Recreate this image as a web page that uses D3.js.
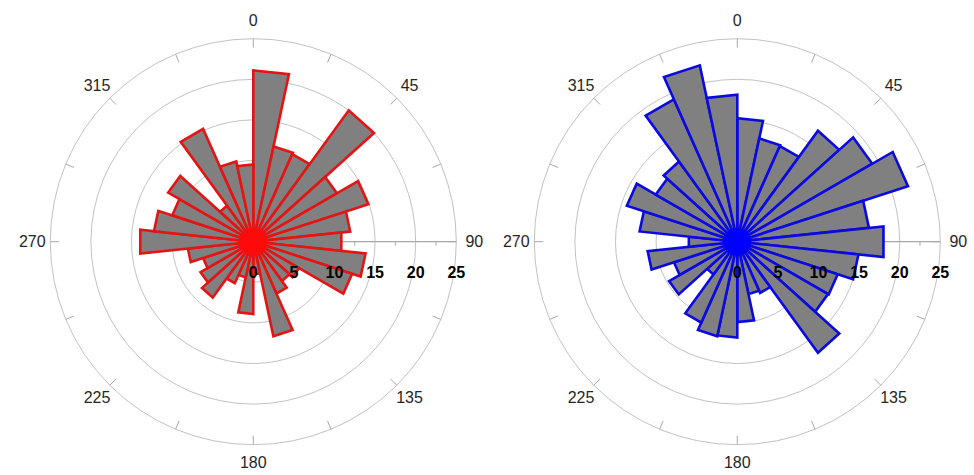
<!DOCTYPE html>
<html>
<head>
<meta charset="utf-8">
<script src="https://cdn.jsdelivr.net/npm/d3@7"></script>
<style>
  html, body { margin: 0; padding: 0; background: #fff; }
  svg { display: block; }
  .alabel { font-family: "Liberation Sans", Arial, sans-serif; font-size: 16px; fill: #262626; }
  .rlabel { font-family: "Liberation Sans", Arial, sans-serif; font-size: 16px; font-weight: bold; fill: #000; }
</style>
</head>
<body>
<svg id="chart" width="974" height="475"></svg>
<script>
// Angular bins (degrees, clockwise from north), 12 degrees wide
const binWidth = 12;
const binStarts = [0, 12, 24, 36, 48, 60, 72, 84, 96, 108, 120, 132, 144, 156, 168,
                   180, 192, 204, 216, 228, 240, 252, 264, 276, 288, 300, 312, 324, 336, 348];

// Counts per bin
const countsRed = [21.1, 12.0, 11.8, 20.0, 11.9, 14.9, 12.0, 10.9, 13.9, 12.8, 6.5, 6.0, 7.0, 11.9, 4.0,
                   8.9, 4.5, 5.6, 8.5, 7.5, 6.5, 8.1, 14.0, 12.3, 10.5, 12.1, 5.5, 15.2, 10.1, 9.5];
const countsBlue = [15.2, 13.0, 12.9, 16.9, 19.2, 22.1, 16.3, 18.1, 15.0, 13.0, 12.9, 16.9, 6.9, 6.6, 9.9,
                    11.8, 11.9, 10.9, 5.0, 9.7, 8.2, 11.1, 6.0, 12.1, 14.3, 11.6, 12.2, 19.2, 22.2, 18.1];

// Axis labelling
const angleLabels = [0, 45, 90, 135, 180, 225, 270, 315];
const angleTicks = [0, 22.5, 45, 67.5, 90, 112.5, 135, 157.5, 180, 202.5, 225, 247.5, 270, 292.5, 315, 337.5];
const radialTicks = [0, 5, 10, 15, 20, 25];
const radialMinorTicks = [2.5, 7.5, 12.5, 17.5, 22.5];

const panels = [
  { cx: 253.3, cy: 241.7, counts: countsRed, edge: "#e41414", hub: "#ff0a0a" },
  { cx: 737.3, cy: 241.7, counts: countsBlue, edge: "#0a0ae0", hub: "#0000ff" }
];

const svg = d3.select("#chart");
const rScale = d3.scaleLinear().domain([0, 25]).range([0, 203]);
const aScale = d3.scaleLinear().domain([0, 360]).range([0, 2 * Math.PI]);

// x/y of a point at compass angle (deg) and data radius
function pt(cx, cy, deg, v) {
  const a = aScale(deg);
  return [cx + rScale(v) * Math.sin(a), cy - rScale(v) * Math.cos(a)];
}

const wedge = d3.lineRadial()
  .angle(d => aScale(d.a))
  .radius(d => rScale(d.v))
  .curve(d3.curveLinearClosed);

panels.forEach(p => {
  const g = svg.append("g");
  const inner = g.append("g").attr("transform", `translate(${p.cx},${p.cy})`);

  // concentric grid rings
  inner.selectAll("circle.ring")
    .data(radialTicks.filter(t => t > 0))
    .join("circle")
    .attr("class", "ring")
    .attr("r", d => rScale(d))
    .attr("fill", "none")
    .attr("stroke", "#c2c2c2")
    .attr("stroke-width", 1);

  // angular ticks on the outer ring
  inner.selectAll("line.atick")
    .data(angleTicks)
    .join("line")
    .attr("class", "atick")
    .attr("x1", d => Math.sin(aScale(d)) * (rScale(25) - 9))
    .attr("y1", d => -Math.cos(aScale(d)) * (rScale(25) - 9))
    .attr("x2", d => Math.sin(aScale(d)) * rScale(25))
    .attr("y2", d => -Math.cos(aScale(d)) * rScale(25))
    .attr("stroke", "#a8a8a8")
    .attr("stroke-width", 1);

  // radial axis along 90 degrees
  inner.append("line")
    .attr("x1", 0).attr("y1", 0)
    .attr("x2", rScale(25)).attr("y2", 0)
    .attr("stroke", "#a8a8a8")
    .attr("stroke-width", 1.2);

  inner.selectAll("line.rtick")
    .data(radialMinorTicks)
    .join("line")
    .attr("class", "rtick")
    .attr("x1", d => rScale(d)).attr("x2", d => rScale(d))
    .attr("y1", 0).attr("y2", 4)
    .attr("stroke", "#a8a8a8")
    .attr("stroke-width", 1);

  // rose wedges
  inner.selectAll("path.bar")
    .data(binStarts.map((s, i) => ({ s, v: p.counts[i] })))
    .join("path")
    .attr("class", "bar")
    .attr("d", d => wedge([{ a: d.s, v: 0 }, { a: d.s, v: d.v }, { a: d.s + binWidth, v: d.v }]))
    .attr("fill", "#808080")
    .attr("stroke", p.edge)
    .attr("stroke-width", 2.6)
    .attr("stroke-linejoin", "miter");

  // hub where the wedge edges converge
  inner.append("circle")
    .attr("r", 14)
    .attr("fill", p.hub);

  // radial tick labels
  inner.selectAll("text.rlabel")
    .data(radialTicks)
    .join("text")
    .attr("class", "rlabel")
    .attr("x", d => rScale(d))
    .attr("y", 31)
    .attr("text-anchor", "middle")
    .attr("dominant-baseline", "central")
    .text(d => d);

  // angle labels
  g.selectAll("text.alabel")
    .data(angleLabels)
    .join("text")
    .attr("class", "alabel")
    .attr("x", d => pt(p.cx, p.cy, d, 25)[0] + Math.sin(aScale(d)) * 18)
    .attr("y", d => pt(p.cx, p.cy, d, 25)[1] - Math.cos(aScale(d)) * 18)
    .attr("text-anchor", "middle")
    .attr("dominant-baseline", "central")
    .text(d => d);
});
</script>
</body>
</html>
